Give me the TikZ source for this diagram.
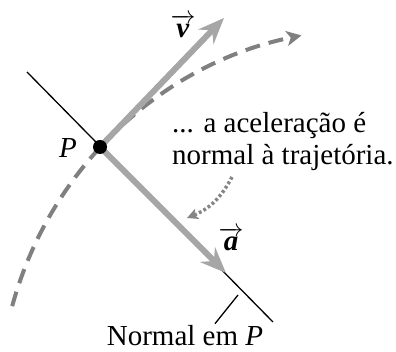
\documentclass[tikz,border=0pt]{standalone}
\usepackage{amsmath}
\usepackage{fontspec}
\setmainfont{Liberation Serif}
\usetikzlibrary{arrows.meta,calc,positioning}
\definecolor{vecgray}{HTML}{A6A6A6}
\definecolor{pathgray}{HTML}{808080}
\definecolor{notegray}{HTML}{858585}

\begin{document}
\begin{tikzpicture}[x=1pt,y=1pt,font=\fontsize{29}{32}\selectfont,
    vecarrow/.style={line width=6pt,draw=vecgray,
      -{Stealth[length=26pt,width=21pt,inset=9pt]}},
    trajline/.style={line width=4pt,draw=pathgray,dash pattern=on 15pt off 9pt,
      -{Stealth[length=15pt,width=15pt,inset=4pt]}}]
    \useasboundingbox (0,0) rectangle (396,352);
    % normal line and trajectory
    \coordinate (P) at (100,205);
    \coordinate (nA) at (27,280);
    \coordinate (nB) at (273,30);
    \coordinate (ctr) at (376,-53);
    \draw[line width=1.3pt] (nA) -- (nB);
    \draw[trajline] ([shift={(164.8:377)}]ctr)
      arc[start angle=164.8,end angle=101.4,radius=377];
    % vectors
    \coordinate (vtip) at (224,334);
    \coordinate (atip) at (226,79);
    \draw[vecarrow] (P) -- (vtip);
    \draw[vecarrow] (P) -- (atip);
    \fill (P) circle (7pt);
    % labels
    \node[inner sep=1pt] (Plbl) at (68,204) {\textit{P}};
    \node[inner sep=1pt] (vlbl) at (183,326) {$\overrightarrow{\textbf{\textit{v}}}$};
    \node[inner sep=1pt] (albl) at (231,113) {$\overrightarrow{\textbf{\textit{a}}}$};
    \node[anchor=north west,inner sep=0pt,align=left] (note) at (172,240)
      {... a aceleração é\\normal à trajetória.};
    \node[anchor=base,inner sep=0pt] (normlbl) at (185,6) {Normal em \textit{P}};
    \coordinate (lead) at (238,57);
    \draw[line width=1.3pt] ($(normlbl.north)+(30,2)$) -- (lead);
    % pointer from the note
    \coordinate (nstart) at (232,175);
    \coordinate (nend) at (187,134);
    \draw[notegray,line width=3.5pt,dash pattern=on 2.8pt off 2.4pt,
      -{Stealth[length=11pt,width=11pt,inset=3pt]}] (nstart) to[bend left=20] (nend);
\end{tikzpicture}
\end{document}
